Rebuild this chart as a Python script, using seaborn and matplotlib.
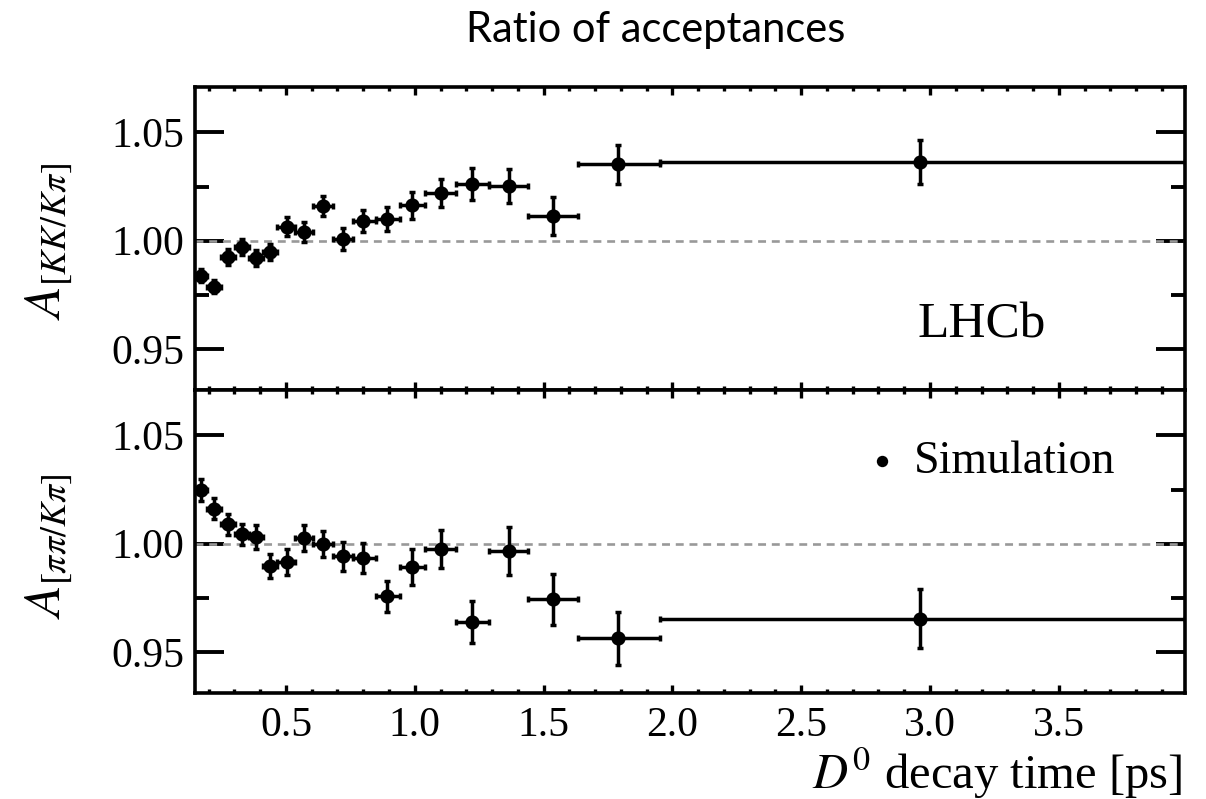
import matplotlib
matplotlib.use("Agg")
import matplotlib.pyplot as plt
from matplotlib.ticker import MultipleLocator, FixedLocator
import seaborn as sns
import pandas as pd

# ---- data ----
bin_edges = [0.147, 0.192, 0.248, 0.302, 0.355, 0.410, 0.466, 0.535, 0.606, 0.684,
             0.761, 0.848, 0.942, 1.039, 1.162, 1.288, 1.440, 1.632, 1.952, 3.99]
time_centers = [0.170, 0.221, 0.274, 0.328, 0.382, 0.438, 0.503, 0.570, 0.642, 0.720,
                0.800, 0.893, 0.990, 1.100, 1.224, 1.365, 1.535, 1.790, 2.962]
ratio_kk = [0.9838, 0.9788, 0.9924, 0.9970, 0.9921, 0.9947, 1.0065, 1.0039, 1.0159, 1.0009,
            1.0091, 1.0100, 1.0164, 1.0220, 1.0262, 1.0253, 1.0114, 1.0353, 1.0365]
err_kk = [0.0030, 0.0030, 0.0036, 0.0036, 0.0038, 0.0038, 0.0045, 0.0045, 0.0047, 0.0050,
          0.0052, 0.0057, 0.0062, 0.0063, 0.0072, 0.0080, 0.0086, 0.0091, 0.0102]
ratio_pipi = [1.0247, 1.0162, 1.0090, 1.0043, 1.0031, 0.9895, 0.9915, 1.0028, 0.9998, 0.9941,
              0.9934, 0.9756, 0.9892, 0.9974, 0.9637, 0.9966, 0.9742, 0.9563, 0.9653]
err_pipi = [0.0050, 0.0048, 0.0048, 0.0050, 0.0054, 0.0056, 0.0058, 0.0060, 0.0062, 0.0066,
            0.0070, 0.0073, 0.0082, 0.0087, 0.0096, 0.0110, 0.0117, 0.0123, 0.0137]
x_tick_values = [0.5, 1.0, 1.5, 2.0, 2.5, 3.0, 3.5]
x_tick_labels = ["0.5", "1.0", "1.5", "2.0", "2.5", "3.0", "3.5"]
y_tick_values = [0.95, 1.00, 1.05]
y_tick_labels = ["0.95", "1.00", "1.05"]

xerr_lo = [c - lo for c, lo in zip(time_centers, bin_edges[:-1])]
xerr_hi = [hi - c for c, hi in zip(time_centers, bin_edges[1:])]

sns.set_theme(style="ticks")
plt.rcParams["font.family"] = ["Liberation Serif", "DejaVu Serif"]
plt.rcParams["mathtext.fontset"] = "stix"

fig = plt.figure(figsize=(12.06, 7.99), dpi=100)
ax1 = fig.add_axes([0.1617, 0.5119, 0.8209, 0.3792])
ax2 = fig.add_axes([0.1617, 0.1327, 0.8209, 0.3792], sharex=ax1)

panels = [(ax1, ratio_kk, err_kk, r"$A_{[KK/K\pi]}$", 0.49),
          (ax2, ratio_pipi, err_pipi, r"$A_{[\pi\pi/K\pi]}$", 0.485)]

for ax, vals, errs, ylab, ly in panels:
    df = pd.DataFrame({"t": time_centers, "v": vals})
    ax.axhline(1.0, color="#999999", ls=(0, (3, 2.2)), lw=1.9, zorder=1)
    ax.errorbar(time_centers, vals, xerr=[xerr_lo, xerr_hi], yerr=errs, fmt="none",
                ecolor="black", elinewidth=2.5, capsize=2.2, capthick=2.5, zorder=2)
    sns.scatterplot(data=df, x="t", y="v", ax=ax, color="black", s=105, linewidth=0,
                    zorder=3, legend=False,
                    label="Simulation" if ax is ax2 else None)
    ax.set_xlim(bin_edges[0], bin_edges[-1])
    ax.set_ylim(0.931, 1.071)
    ax.yaxis.set_major_locator(FixedLocator(y_tick_values))
    ax.set_yticklabels(y_tick_labels)
    ax.yaxis.set_minor_locator(MultipleLocator(0.025))
    ax.xaxis.set_major_locator(FixedLocator(x_tick_values))
    ax.xaxis.set_minor_locator(MultipleLocator(0.1))
    ax.tick_params(which="both", direction="in", top=True, right=True, color="black",
                   labelsize=30, labelcolor="black")
    ax.tick_params(axis="y", which="major", length=21, width=2.8, pad=8)
    ax.tick_params(axis="y", which="minor", length=10, width=2.8)
    ax.tick_params(axis="x", which="major", length=6, width=2.4, pad=10)
    ax.tick_params(axis="x", which="minor", length=3, width=2.4)
    for s in ax.spines.values():
        s.set_color("black")
        s.set_linewidth(2.6)
        s.set_visible(True)
    ax.set_ylabel(ylab, fontsize=37, color="black")
    ax.yaxis.set_label_coords(-0.147, ly)
    ax.yaxis.label.set_va("center")
    ax.set_xlabel("")

ax1.tick_params(labelbottom=False)
ax2.set_xticks(x_tick_values)
ax2.set_xticklabels(x_tick_labels)

ax2.set_xlabel(r"$D^0$ decay time [ps]", fontsize=35, color="black")
ax2.xaxis.set_label_coords(0.997, -0.318)
ax2.xaxis.label.set_ha("right")
ax2.xaxis.label.set_va("baseline")

ax1.text(0.795, 0.215, "LHCb", transform=ax1.transAxes, ha="center", va="center",
         fontsize=37, color="black")

leg = ax2.legend(loc="center left", bbox_to_anchor=(0.675, 0.762), frameon=False,
                 fontsize=33, handlelength=0.8, handletextpad=0.3, borderpad=0,
                 borderaxespad=0, markerscale=0.8, labelcolor="black")

fig.text(0.544, 0.962, "Ratio of acceptances", ha="center", va="center",
         fontsize=30, family=["Lato", "DejaVu Sans"], color="black")

fig.savefig("out.png", dpi=100, facecolor="white")
